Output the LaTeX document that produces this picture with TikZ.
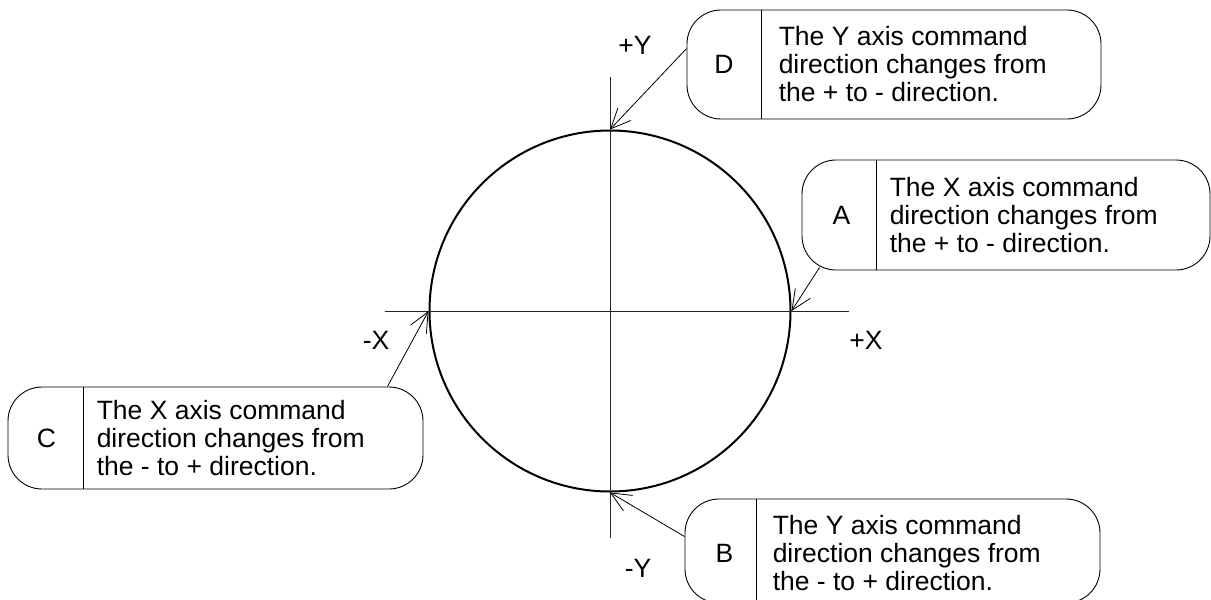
\documentclass[tikz,border=0pt]{standalone}
\usepackage{fontspec}
\setmainfont{Liberation Sans}
\usetikzlibrary{arrows.meta,positioning}

\begin{document}
\begin{tikzpicture}[
    x=1pt, y=-1pt,
    font=\fontsize{26.5}{28}\selectfont,
    callbox/.style={draw, rounded corners=34pt, line width=0.9pt, inner sep=0pt},
    callkey/.style={inner sep=0pt},
    calltext/.style={anchor=west, align=left, inner sep=0pt},
    axis/.style={line width=0.8pt, black!85},
    arr/.style={-{Straight Barb[length=20pt,width=18pt]}, line width=0.8pt},
    every node/.style={font=\fontsize{26.5}{28}\selectfont}
]
\useasboundingbox (0,0) rectangle (1211,600);

%% Circle and axes
\node[draw, circle, minimum size=361pt, line width=2pt, inner sep=0pt] (circ) at (610,311) {};
\draw[axis] ([xshift=-44pt]circ.west) -- ([xshift=57pt]circ.east);
\draw[axis] ([yshift=53pt]circ.north) -- ([yshift=-45pt]circ.south);

%% Axis labels
\node (py) at (635,45) {+Y};
\node (my) at (638,568) {-Y};
\node (mx) at (376,340) {-X};
\node (px) at (866,340) {+X};

%% Callout D
\node[callbox, minimum width=414pt, minimum height=109pt] (D) at (894,64.5) {};
\draw[line width=0.9pt] ([xshift=75pt]D.north west) -- ([xshift=75pt]D.south west);
\node[callkey] (Dkey) at ([xshift=37.5pt]D.west) {D};
\node[calltext] (Dtext) at ([xshift=92pt]D.west)
  {The Y axis command\\direction changes from\\the + to - direction.};
\draw[arr] ([yshift=-39pt]D.north west) -- (circ.north);

%% Callout A
\node[callbox, minimum width=408pt, minimum height=110pt] (A) at (1006,215) {};
\draw[line width=0.9pt] ([xshift=75pt]A.north west) -- ([xshift=75pt]A.south west);
\node[callkey] (Akey) at ([xshift=40pt]A.west) {A};
\node[calltext] (Atext) at ([xshift=88pt]A.west)
  {The X axis command\\direction changes from\\the + to - direction.};
\draw[arr] ([xshift=18pt,yshift=3pt]A.south west) -- (circ.east);

%% Callout C
\node[callbox, minimum width=415pt, minimum height=102pt] (C) at (215.5,438) {};
\draw[line width=0.9pt] ([xshift=76pt]C.north west) -- ([xshift=76pt]C.south west);
\node[callkey] (Ckey) at ([xshift=39pt]C.west) {C};
\node[calltext] (Ctext) at ([xshift=89pt]C.west)
  {The X axis command\\direction changes from\\the - to + direction.};
\draw[arr] ([xshift=-36pt]C.north east) -- (circ.west);

%% Callout B
\node[callbox, minimum width=415pt, minimum height=104pt] (B) at (892.5,551) {};
\draw[line width=0.9pt] ([xshift=72pt]B.north west) -- ([xshift=72pt]B.south west);
\node[callkey] (Bkey) at ([xshift=40pt,yshift=-2pt]B.west) {B};
\node[calltext] (Btext) at ([xshift=88pt,yshift=-2pt]B.west)
  {The Y axis command\\direction changes from\\the - to + direction.};
\draw[arr] ([yshift=-38pt]B.north west) -- (circ.south);

\end{tikzpicture}
\end{document}
